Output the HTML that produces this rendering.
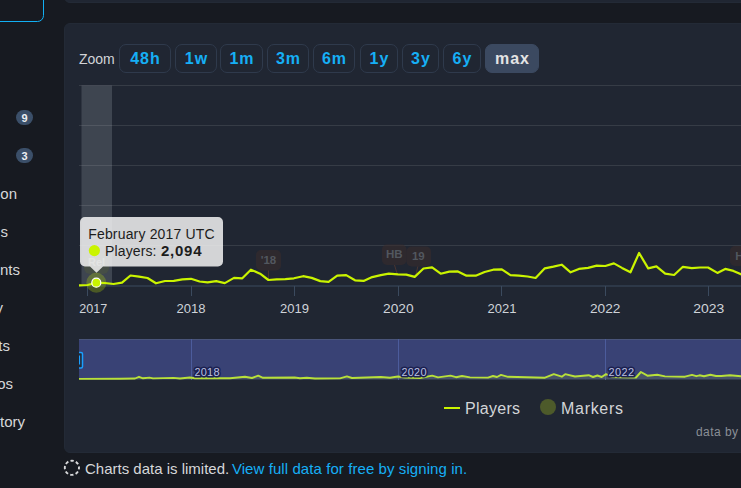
<!DOCTYPE html>
<html><head><meta charset="utf-8">
<style>
*{margin:0;padding:0;box-sizing:border-box}
html,body{width:741px;height:488px;overflow:hidden;background:#171a21;font-family:"Liberation Sans",sans-serif;color:#d6d7d9}
.abs{position:absolute}
.topbox{left:64px;top:-20px;width:700px;height:23px;background:#202632;border:1px solid #232a36;border-radius:6px}
.sidebox{left:-20px;top:-20px;width:63.8px;height:41.8px;border:1.7px solid #12b0f4;border-radius:6.5px}
.panel{left:64px;top:23px;width:700px;height:430px;background:#202632;border:1px solid #232a36;border-radius:6px}
.side{font-size:15px;color:#d6d7d9;white-space:nowrap}
.badge{width:17px;height:15px;border-radius:8px;background:#3b4f69;color:#eceef2;font-size:11px;font-weight:bold;text-align:center;line-height:17px}
.zoomlbl{left:79px;top:51px;font-size:14px;color:#d2d4d8}
.btn{top:44px;height:29px;border:1px solid #2f3a4c;border-radius:7px;color:#16aff5;font-weight:bold;font-size:16px;text-align:center;line-height:28px;letter-spacing:1px;text-indent:1px}
.btn.sel{background:#3b4960;border-color:#3b4960;color:#e4e4e4}
svg{position:absolute;left:0;top:0}
.footer{left:85px;top:460px;font-size:15px;color:#d6d7d9;white-space:nowrap}
.footer a{color:#16aff5;text-decoration:none;letter-spacing:0.08px;margin-left:-1.5px}
</style></head><body>
<div class="abs topbox"></div>
<div class="abs sidebox"></div>
<div class="abs panel"></div>

<div class="abs badge" style="left:16px;top:110px">9</div>
<div class="abs badge" style="left:16px;top:148px">3</div>
<div class="abs side" style="right:724px;top:185px">on</div>
<div class="abs side" style="right:733px;top:223px">s</div>
<div class="abs side" style="right:721px;top:261px">nts</div>
<div class="abs side" style="right:738px;top:299px">y</div>
<div class="abs side" style="right:731px;top:337px">ts</div>
<div class="abs side" style="right:728px;top:375px">os</div>
<div class="abs side" style="right:716px;top:413px">tory</div>

<div class="abs zoomlbl">Zoom</div>
<div class="abs btn" style="left:119px;width:52px">48h</div>
<div class="abs btn" style="left:175px;width:42px">1w</div>
<div class="abs btn" style="left:220px;width:43px">1m</div>
<div class="abs btn" style="left:267px;width:42px">3m</div>
<div class="abs btn" style="left:313px;width:42px">6m</div>
<div class="abs btn" style="left:360px;width:38px">1y</div>
<div class="abs btn" style="left:402px;width:37px">3y</div>
<div class="abs btn" style="left:443px;width:38px">6y</div>
<div class="abs btn sel" style="left:485px;width:54px">max</div>

<svg width="741" height="488" viewBox="0 0 741 488">
  <!-- band -->
  <rect x="81.5" y="85.5" width="30.5" height="200" fill="#3e4550"/>
  <!-- grid -->
  <g stroke="#ffffff" stroke-opacity="0.1" stroke-width="1">
    <line x1="79" y1="85.5" x2="741" y2="85.5"/>
    <line x1="79" y1="125.5" x2="741" y2="125.5"/>
    <line x1="79" y1="165.5" x2="741" y2="165.5"/>
    <line x1="79" y1="205.5" x2="741" y2="205.5"/>
    <line x1="79" y1="245.5" x2="741" y2="245.5"/>
  </g>
  <!-- axis -->
  <line x1="79" y1="286" x2="741" y2="286" stroke="#3b4a5e" stroke-width="1"/>
  <g stroke="#3b4a5e" stroke-width="1">
    <line x1="87.5" y1="286" x2="87.5" y2="296"/>
    <line x1="191.5" y1="286" x2="191.5" y2="296"/>
    <line x1="294.5" y1="286" x2="294.5" y2="296"/>
    <line x1="398.5" y1="286" x2="398.5" y2="296"/>
    <line x1="501.5" y1="286" x2="501.5" y2="296"/>
    <line x1="605.5" y1="286" x2="605.5" y2="296"/>
    <line x1="708.5" y1="286" x2="708.5" y2="296"/>
  </g>
  <g font-family="Liberation Sans" font-size="13.6" fill="#cfd3d9" text-anchor="middle">
    <text x="93.3" y="313" textLength="28" lengthAdjust="spacingAndGlyphs">2017</text>
    <text x="191.1" y="313" textLength="29" lengthAdjust="spacingAndGlyphs">2018</text>
    <text x="294.6" y="313" textLength="29" lengthAdjust="spacingAndGlyphs">2019</text>
    <text x="398.3" y="313" textLength="30.5" lengthAdjust="spacingAndGlyphs">2020</text>
    <text x="501.9" y="313" textLength="29" lengthAdjust="spacingAndGlyphs">2021</text>
    <text x="605.2" y="313" textLength="30.5" lengthAdjust="spacingAndGlyphs">2022</text>
    <text x="708.7" y="313" textLength="31" lengthAdjust="spacingAndGlyphs">2023</text>
  </g>
  <!-- flags -->
  <g fill="#3a2c2c" fill-opacity="0.55">
    
    <rect x="256" y="250" width="25" height="20.5" rx="5"/>
    <rect x="382" y="244.5" width="24.5" height="20.5" rx="5"/>
    <rect x="406.5" y="246.5" width="24.5" height="20" rx="5"/>
    <rect x="730" y="246" width="24" height="20" rx="5"/>
  </g>
  <g stroke="#4a3530" stroke-width="1">
    <line x1="268.5" y1="270.5" x2="268.5" y2="280"/>
    <line x1="394.5" y1="265" x2="397.3" y2="274.4"/>
    <line x1="417.8" y1="266.5" x2="415.5" y2="276.7"/>
  </g>
  <g font-family="Liberation Sans" font-size="11.5" font-weight="bold" fill="#52575f" text-anchor="middle">
    <text x="268.5" y="263.8">'18</text>
    <text x="394.3" y="258.2">HB</text>
    <text x="418.3" y="260.2">19</text>
    <text x="739.5" y="259.8">H</text>
  </g>
  <rect x="84" y="253" width="25" height="21" rx="6" fill="#50583a" fill-opacity="0.45"/>
  <text x="96.5" y="266" font-family="Liberation Sans" font-size="11" font-weight="bold" fill="#ffffff" fill-opacity="0.35" text-anchor="middle">Rel</text>
  <!-- players line -->
  <polyline points="79.0,285.4 87.6,285.0 96.3,282.7 104.9,283.0 113.5,284.0 122.0,282.7 130.5,275.5 139.0,276.6 147.5,278.0 156.0,283.3 165.0,281.0 173.8,280.8 182.4,279.4 191.0,278.8 199.6,281.5 207.6,282.3 216.2,281.1 224.8,283.1 234.0,277.9 242.3,278.3 250.9,269.7 260.1,273.7 268.4,280.0 276.7,279.4 285.3,279.1 293.9,278.3 303.1,276.2 311.7,277.9 320.3,281.1 328.6,281.9 337.2,275.7 346.2,275.1 355.0,280.3 363.6,280.9 372.2,277.1 380.8,275.1 388.8,273.7 398.0,274.3 406.3,274.6 414.7,276.9 423.5,268.5 432.1,267.4 440.7,273.7 449.3,271.6 457.9,271.4 466.5,275.7 475.7,275.7 484.6,272.0 493.2,269.7 501.8,269.4 510.4,275.1 519.0,275.7 527.6,276.5 535.6,278.0 544.8,268.3 553.4,266.6 561.7,264.7 570.6,272.3 578.9,268.9 588.1,267.9 596.7,265.6 605.3,266.0 613.9,263.4 622.0,267.9 630.5,272.3 639.1,253.0 648.2,268.4 656.4,266.4 665.2,273.6 674.1,275.0 682.9,266.8 691.8,268.2 700.0,267.5 708.1,267.5 717.4,272.9 725.2,268.9 733.4,270.9 741.0,274.3 750.0,276.0" fill="none" stroke="#caf400" stroke-width="2.2" stroke-linejoin="round"/>
  <!-- hover marker -->
  <circle cx="96.3" cy="282.7" r="10" fill="#caf400" fill-opacity="0.25"/>
  <circle cx="96.3" cy="282.7" r="4.5" fill="#caf400" stroke="#ffffff" stroke-width="1.2"/>
  <!-- navigator -->
  <rect x="79" y="339" width="670" height="40.5" fill="#394275"/>
  <line x1="79" y1="339.5" x2="741" y2="339.5" stroke="#49547a" stroke-width="1"/>
  <g stroke="#4c5c9c" stroke-width="1">
    <line x1="191.5" y1="339" x2="191.5" y2="380"/>
    <line x1="398.5" y1="339" x2="398.5" y2="380"/>
    <line x1="605.5" y1="339" x2="605.5" y2="380"/>
  </g>
  <polygon points="79,379.5 79.0,378.90 120.0,378.80 135.0,378.50 139.0,376.80 143.0,378.30 149.5,377.60 153.0,378.40 173.6,377.90 180.0,378.50 189.7,377.50 195.0,378.30 230.0,378.20 245.0,376.80 252.0,378.00 258.2,375.60 263.0,377.80 294.6,377.50 300.0,378.30 306.8,377.80 315.0,378.50 340.0,378.40 346.9,376.40 352.0,378.00 380.9,377.00 390.0,377.80 397.9,376.50 405.0,377.50 420.0,378.00 432.2,375.60 438.0,377.40 450.5,375.60 456.0,377.20 462.0,376.00 470.0,377.40 488.0,377.60 493.0,376.00 497.0,377.00 501.0,374.90 508.0,376.80 545.0,377.70 553.8,374.20 561.8,376.70 565.2,374.20 575.0,376.50 588.7,375.20 593.0,377.00 597.4,375.50 601.7,377.00 606.0,374.10 612.0,377.00 636.0,377.50 640.9,372.00 647.4,375.70 657.2,374.80 665.0,376.40 685.0,376.70 692.0,374.80 696.3,376.20 699.6,375.30 704.0,376.20 710.4,374.80 716.0,376.00 721.3,376.00 730.0,375.20 741.0,376.30 760.0,376.50 760,379.5" fill="#caf400" fill-opacity="0.1"/>
  <polyline points="79.0,378.90 120.0,378.80 135.0,378.50 139.0,376.80 143.0,378.30 149.5,377.60 153.0,378.40 173.6,377.90 180.0,378.50 189.7,377.50 195.0,378.30 230.0,378.20 245.0,376.80 252.0,378.00 258.2,375.60 263.0,377.80 294.6,377.50 300.0,378.30 306.8,377.80 315.0,378.50 340.0,378.40 346.9,376.40 352.0,378.00 380.9,377.00 390.0,377.80 397.9,376.50 405.0,377.50 420.0,378.00 432.2,375.60 438.0,377.40 450.5,375.60 456.0,377.20 462.0,376.00 470.0,377.40 488.0,377.60 493.0,376.00 497.0,377.00 501.0,374.90 508.0,376.80 545.0,377.70 553.8,374.20 561.8,376.70 565.2,374.20 575.0,376.50 588.7,375.20 593.0,377.00 597.4,375.50 601.7,377.00 606.0,374.10 612.0,377.00 636.0,377.50 640.9,372.00 647.4,375.70 657.2,374.80 665.0,376.40 685.0,376.70 692.0,374.80 696.3,376.20 699.6,375.30 704.0,376.20 710.4,374.80 716.0,376.00 721.3,376.00 730.0,375.20 741.0,376.30 760.0,376.50" fill="none" stroke="#b8e03a" stroke-width="1.9" stroke-linejoin="round"/>
  <g font-family="Liberation Sans" font-size="11" fill="#bcc0e2" stroke="#1c2150" stroke-width="3.2" stroke-linejoin="round" paint-order="stroke">
    <text x="194.5" y="376" textLength="25" lengthAdjust="spacing">2018</text>
    <text x="401.5" y="376" textLength="25" lengthAdjust="spacing">2020</text>
    <text x="608.5" y="376" textLength="25.5" lengthAdjust="spacing">2022</text>
  </g>
  <rect x="75.5" y="352.5" width="7" height="15.5" rx="1.5" fill="#232a3a" stroke="#1a9fff" stroke-width="1.5"/>
  <line x1="79.5" y1="355.5" x2="79.5" y2="364.5" stroke="#1a9fff" stroke-width="1.2"/>
  <rect x="65" y="339" width="14" height="45" fill="#202632"/>
  <!-- legend -->
  <line x1="444" y1="408" x2="460" y2="408" stroke="#caf400" stroke-width="2"/>
  <text x="465" y="414" font-family="Liberation Sans" font-size="16" fill="#d3d5d8" textLength="55" lengthAdjust="spacing">Players</text>
  <circle cx="548" cy="407" r="8" fill="#4d5a2a"/>
  <text x="561" y="414" font-family="Liberation Sans" font-size="16" fill="#d3d5d8" textLength="62" lengthAdjust="spacing">Markers</text>
  <text x="696" y="436" font-family="Liberation Sans" font-size="12" fill="#8a8f96" textLength="42" lengthAdjust="spacing">data by</text>
  <!-- tooltip -->
  <path d="M85,217 H218 a5,5 0 0 1 5,5 V261.5 a5,5 0 0 1 -5,5 H103 L96.5,272.8 L90,266.5 H85 a5,5 0 0 1 -5,-5 V222 a5,5 0 0 1 5,-5 Z" fill="#f3f3f3" fill-opacity="0.85"/>
  <text x="88.2" y="238.8" font-family="Liberation Sans" font-size="14" fill="#1c1c1c" textLength="126.5" lengthAdjust="spacing">February 2017 UTC</text>
  <circle cx="94.4" cy="250.6" r="5.6" fill="#caf400"/>
  <text x="105" y="255.8" font-family="Liberation Sans" font-size="14" fill="#1c1c1c" textLength="51.5" lengthAdjust="spacing">Players:</text>
  <text x="161" y="255.8" font-family="Liberation Sans" font-size="15" font-weight="bold" fill="#1c1c1c" textLength="40.5" lengthAdjust="spacing">2,094</text>
  <!-- footer icon -->
  <circle cx="71.9" cy="467.8" r="7.1" fill="none" stroke="#d8d9db" stroke-width="1.9" stroke-dasharray="3.3 2.2765" stroke-dashoffset="1.65"/>
</svg>

<div class="abs footer">Charts data is limited. <a>View full data for free by signing in.</a></div>
</body></html>
